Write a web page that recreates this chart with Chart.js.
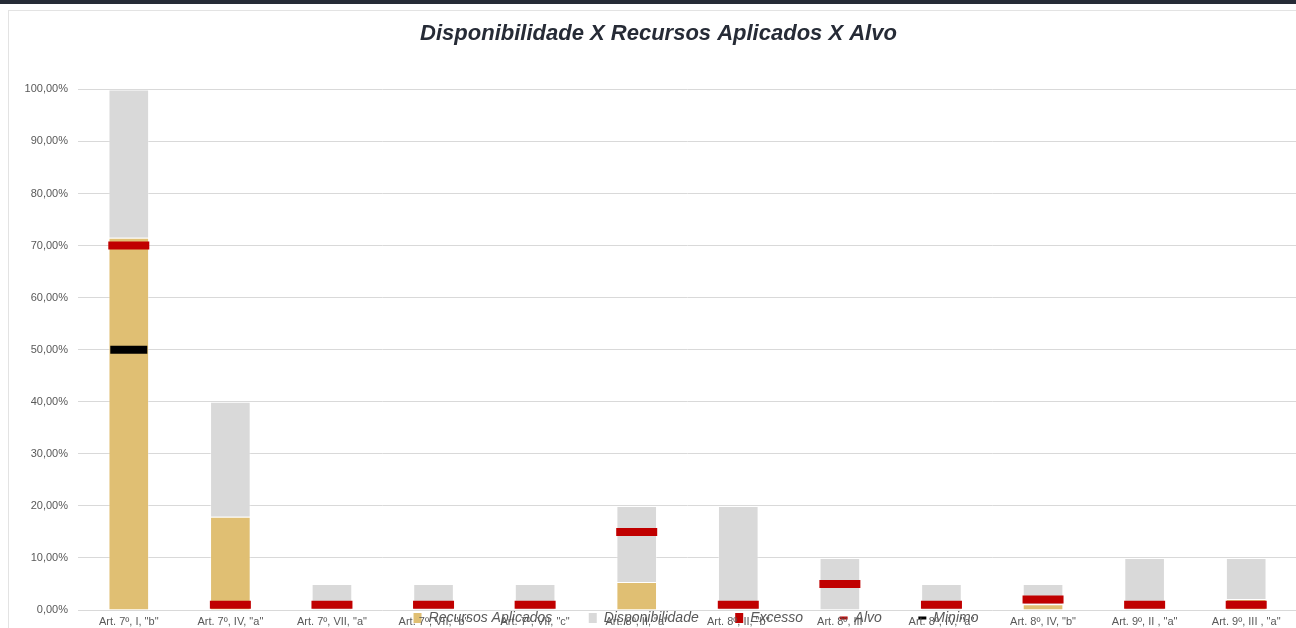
<!DOCTYPE html>
<html>
<head>
<meta charset="utf-8">
<script src="https://cdn.jsdelivr.net/npm/chart.js@4.4.1/dist/chart.umd.min.js"></script>
<style>
	html, body { margin: 0; padding: 0; background: #fff; overflow: hidden; width: 1296px; height: 628px; }
	#topbar { position: absolute; left: 0; top: 0; width: 1296px; height: 4px; background: #262b36; }
	#card { position: absolute; left: 8px; top: 10px; width: 1320px; height: 640px; border-left: 1px solid #e3e3e3; border-top: 1px solid #e3e3e3; }
	#chart { position: absolute; left: 9px; top: 11px; }
</style>
</head>
<body>
<div id="topbar"></div>
<div id="card"></div>
<canvas id="chart" width="1300" height="617"></canvas>
<script>
const categories = [
	'Art. 7º, I, "b"', 'Art. 7º, IV, "a"', 'Art. 7º, VII, "a"', 'Art. 7º, VII, "b"',
	'Art. 7º, VII, "c"', 'Art. 8º, II, "a"', 'Art. 8º, II, "b"', 'Art. 8º, III',
	'Art. 8º, IV, "a"', 'Art. 8º, IV, "b"', 'Art. 9º, II , "a"', 'Art. 9º, III , "a"'
];
// values in %
const recursosAplicados = [71.5, 17.9, 0, 0, 0, 5.4, 0, 0, 0, 1.1, 0, 2.1];
const disponibilidade = [28.5, 22.1, 5, 5, 5, 14.6, 20, 10, 5, 3.9, 10, 7.9];
const excesso = [0, 0, 0, 0, 0, 0, 0, 0, 0, 0, 0, 0];
const alvo = [70, 1, 1, 1, 1, 15, 1, 5, 1, 2, 1, 1];
const minimo = [50, null, null, null, null, null, null, null, null, null, null, null];
const yMax = 100;
const yStep = 10;

// legend sits over the x labels like in the original, title a bit off-centre
const layoutTweaks = {
	id: "layoutTweaks",
	afterInit(chart) {
		const lg = chart.legend;
		const origFit = lg.fit;
		lg.fit = function () {
			origFit.call(this);
			this.height = 0;
		};
	},
	afterLayout(chart) {
		const lg = chart.legend;
		const cx = 687;
		lg.left = cx - 600;
		lg.right = cx + 600;
		lg.width = 1200;
		lg.top = 607 - 7 - lg.options.labels.padding;
		lg.bottom = chart.height;
		lg.height = lg.bottom - lg.top;

		const t = chart.titleBlock;
		t.left += 5.5;
		t.right += 5.5;
	}
};

const ctx = document.getElementById("chart");
new Chart(ctx, {
	type: "bar",
	data: {
		labels: categories,
		datasets: [
			{ label: "Recursos Aplicados", data: recursosAplicados, backgroundColor: "#e0bf73", borderColor: "rgba(255,255,255,0.35)", borderWidth: 1, stack: "s", pointStyle: "rect" },
			{ label: "Disponibilidade", data: disponibilidade, backgroundColor: "#d9d9d9", borderColor: "rgba(255,255,255,0.35)", borderWidth: 1, stack: "s", pointStyle: "rect" },
			{ label: "Excesso", data: excesso, backgroundColor: "#c00000", borderWidth: 0, stack: "s", pointStyle: "rect" },
			{
				label: "Alvo", type: "line", data: alvo, stack: "alvo", order: -1, showLine: false,
				borderColor: "#c00000", backgroundColor: "#c00000", borderWidth: 3,
				pointStyle: "line", pointRadius: 20.5, pointHoverRadius: 20.5,
				pointBorderWidth: 8, pointBorderColor: "#c00000"
			},
			{
				label: "Minimo", type: "line", data: minimo, stack: "min", order: -2, showLine: false,
				borderColor: "#000000", backgroundColor: "#000000", borderWidth: 3,
				pointStyle: "line", pointRadius: 18.5, pointHoverRadius: 18.5,
				pointBorderWidth: 8, pointBorderColor: "#000000"
			}
		]
	},
	options: {
		responsive: false,
		animation: false,
		devicePixelRatio: 1,
		layout: { autoPadding: false, padding: { left: 0, right: 12, top: 0, bottom: 1 } },
		datasets: { bar: { categoryPercentage: 1, barPercentage: 0.4 } },
		scales: {
			x: {
				stacked: true,
				afterFit(scale) {
					scale.paddingLeft = 0;
					scale.paddingRight = 0;
					scale.height = 17;
				},
				grid: { display: false, drawTicks: false },
				border: { display: false },
				ticks: {
					autoSkip: false, maxRotation: 0, padding: 5,
					color: "#595959",
					font: { family: "'Liberation Sans', Arial, sans-serif", size: 11 }
				}
			},
			y: {
				stacked: true,
				min: 0,
				max: yMax,
				afterFit(scale) { scale.width = 69; },
				grid: { color: "#d9d9d9", drawTicks: false },
				border: { display: false },
				ticks: {
					stepSize: yStep, padding: 10,
					color: "#595959",
					font: { family: "'Liberation Sans', Arial, sans-serif", size: 11 },
					callback: v => v.toFixed(2).replace(".", ",") + "%"
				}
			}
		},
		plugins: {
			title: {
				display: true,
				text: "Disponibilidade X Recursos Aplicados X Alvo",
				color: "#262b36",
				font: { family: "'Liberation Sans', Arial, sans-serif", size: 22, weight: "bold", style: "italic" },
				padding: { top: 10, bottom: 42 }
			},
			legend: {
				position: "bottom",
				labels: {
					usePointStyle: true,
					pointStyleWidth: 8,
					boxHeight: 10,
					padding: 36.5,
					color: "#595959",
					font: { family: "'Liberation Sans', Arial, sans-serif", size: 14, style: "italic" },
					sort: (a, b) => a.datasetIndex - b.datasetIndex,
					generateLabels(chart) {
						const items = Chart.defaults.plugins.legend.labels.generateLabels(chart);
						items.forEach(it => {
							it.lineWidth = it.datasetIndex >= 3 ? 3 : 0;
						});
						return items;
					}
				}
			},
			tooltip: { enabled: false }
		}
	},
	plugins: [layoutTweaks]
});
</script>
</body>
</html>
